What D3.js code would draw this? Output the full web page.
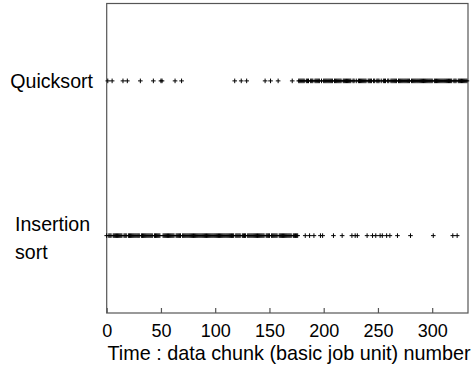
<!DOCTYPE html>
<html>
<head>
<meta charset="utf-8">
<script src="https://cdn.jsdelivr.net/npm/d3@7"></script>
<style>
  html, body { margin: 0; padding: 0; background: #fff; }
  svg { display: block; }
  text { font-family: "Liberation Sans", Arial, sans-serif; fill: #000; }
</style>
</head>
<body>
<svg id="chart" width="472" height="372"></svg>
<script>
// ---- data ----
const categories = ["Insertion sort", "Quicksort"];
const categoryRow = [1, 3];
const quicksortChunks = [1, 5, 15, 19, 31, 43, 50, 51, 63, 69, 118, 124, 129, 146, 151, 158, 171,
  177, 178, 179, 180, 181, 182, 184, 185, 186, 188, 189, 190, 192, 193, 194, 195, 196, 198, 200, 201,
  202, 203, 204, 205, 206, 207, 208, 210, 211, 212, 213, 214, 215, 216, 218, 219, 220, 221, 222, 223,
  224, 225, 227, 228, 230, 232, 233, 234, 235, 236, 237, 238, 239, 241, 242, 243, 244, 246, 247, 249,
  250, 251, 253, 255, 256, 257, 259, 260, 262, 263, 264, 265, 266, 267, 269, 270, 271, 272, 273, 274,
  275, 276, 277, 278, 279, 281, 282, 283, 284, 285, 286, 287, 288, 289, 290, 291, 292, 293, 294, 295,
  296, 297, 298, 299, 300, 302, 303, 304, 305, 306, 307, 308, 309, 310, 311, 312, 313, 314, 315, 316,
  317, 318, 320, 321, 322, 324, 325, 326, 327, 328, 329, 330, 331, 332];
const insertionChunks = [0, 2, 3, 4, 6, 7, 8, 9, 10, 11, 12, 13, 14, 16, 17, 18, 20, 21, 22, 23, 24, 25,
  26, 27, 28, 29, 30, 32, 33, 34, 35, 36, 37, 38, 39, 40, 41, 42, 44, 45, 46, 47, 48, 49, 52, 53, 54,
  55, 56, 57, 58, 59, 60, 61, 62, 64, 65, 66, 67, 68, 70, 71, 72, 73, 74, 75, 76, 77, 78, 79, 80, 81,
  82, 83, 84, 85, 86, 87, 88, 89, 90, 91, 92, 93, 94, 95, 96, 97, 98, 99, 100, 101, 102, 103, 104, 105,
  106, 107, 108, 109, 110, 111, 112, 113, 114, 115, 116, 117, 119, 120, 121, 122, 123, 125, 126, 127,
  128, 130, 131, 132, 133, 134, 135, 136, 137, 138, 139, 140, 141, 142, 143, 144, 145, 147, 148, 149,
  150, 152, 153, 154, 155, 156, 157, 159, 160, 161, 162, 163, 164, 165, 166, 167, 168, 169, 170, 172,
  173, 174, 175, 176, 183, 187, 191, 197, 199, 209, 217, 226, 229, 231, 240, 245, 248, 252, 254, 258,
  261, 268, 280, 301, 319, 323];
const xTicks = [0, 50, 100, 150, 200, 250, 300];
const xDomain = [0, 333];
const yDomain = [0, 4];
const xTitle = "Time : data chunk (basic job unit) number";

// ---- layout ----
const svg = d3.select("#chart");
const L = 106.7, R = 468, T = 3.5, B = 313;
const x = d3.scaleLinear().domain(xDomain).range([L, R]);
const y = d3.scaleLinear().domain(yDomain).range([B, T]);

// frame
svg.append("rect")
  .attr("x", L).attr("y", T).attr("width", R - L).attr("height", B - T)
  .attr("fill", "none").attr("stroke", "#555").attr("stroke-width", 1.2);

// x axis ticks (inward) and labels
const xAxis = d3.axisBottom(x).tickValues(xTicks).tickSizeInner(-5).tickSizeOuter(0).tickPadding(14);
const gx = svg.append("g").attr("transform", `translate(0,${B})`).call(xAxis);
gx.select(".domain").remove();
gx.selectAll(".tick line").attr("stroke", "#555").attr("stroke-width", 1.2);
gx.selectAll(".tick text")
  .attr("y", 24).attr("dy", null)
  .style("font-size", "18px").style("font-family", "Liberation Sans, Arial, sans-serif").attr("fill", "#000");

// x title
svg.append("text")
  .attr("x", (L + 471.5) / 2).attr("y", 360)
  .attr("text-anchor", "middle")
  .style("font-size", "19.8px")
  .text(xTitle);

// category labels
svg.append("text").attr("x", 93).attr("y", y(categoryRow[1]) + 7)
  .attr("text-anchor", "end").style("font-size", "19.6px").text(categories[1]);
const ins = categories[0].split(" ");
svg.append("text").attr("x", 15).attr("y", y(categoryRow[0]) - 5)
  .style("font-size", "19.6px").text(ins[0]);
svg.append("text").attr("x", 15).attr("y", y(categoryRow[0]) + 23)
  .style("font-size", "19.6px").text(ins[1]);

// markers
const plus = "M-2.3,0H2.3M0,-2.3V2.3";
function drawRow(values, row) {
  svg.append("g").selectAll("path").data(values).join("path")
    .attr("d", plus)
    .attr("transform", d => `translate(${x(d)},${y(row)})`)
    .attr("stroke", "#000").attr("stroke-width", 1).attr("fill", "none");
}
drawRow(quicksortChunks, categoryRow[1]);
drawRow(insertionChunks, categoryRow[0]);
</script>
</body>
</html>
